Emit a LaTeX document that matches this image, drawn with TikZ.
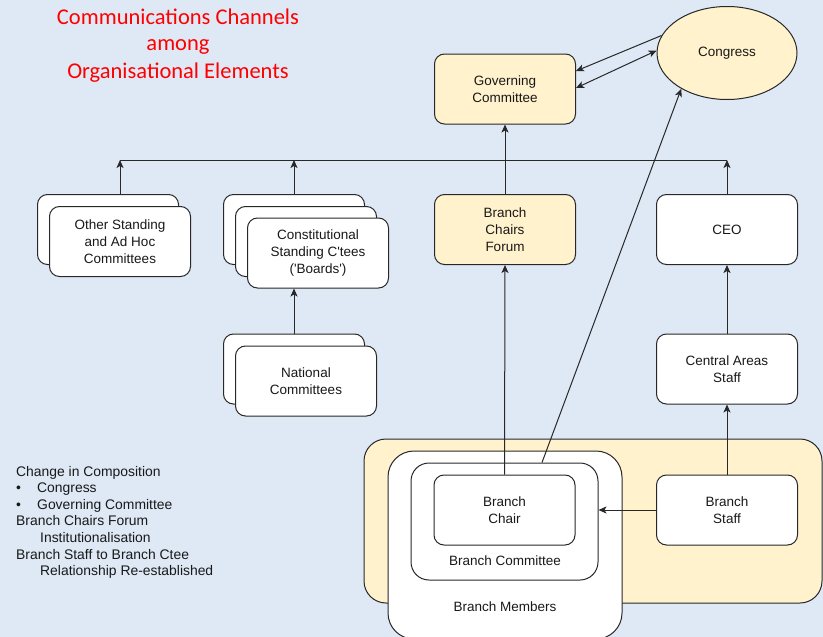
\documentclass[tikz,border=0pt]{standalone}
\usepackage{fontspec}
\setmainfont{Liberation Sans}[Ligatures=TeXOff]
\newfontfamily\titlefont{Carlito}
\usetikzlibrary{arrows.meta,calc,shapes.geometric}
\definecolor{bgblue}{RGB}{222,233,245}
\definecolor{paleyellow}{RGB}{255,242,204}
\definecolor{edgegray}{RGB}{40,40,40}
\definecolor{titlered}{RGB}{255,0,0}
\begin{document}
\begin{tikzpicture}[x=1pt,y=-1pt,
  box/.style={draw=edgegray, line width=1pt, fill=white, rounded corners=10pt,
    minimum width=141pt, minimum height=70pt, align=center, inner sep=0pt,
    text=black!90, font=\fontsize{13.5}{17}\selectfont},
  ybox/.style={box, fill=paleyellow},
  conn/.style={draw=edgegray, line width=1pt},
  arr/.style={conn, -{Stealth[length=8pt,width=7pt,inset=2pt]}},
  darr/.style={conn, {Stealth[length=8pt,width=7pt,inset=2pt]}-{Stealth[length=8pt,width=7pt,inset=2pt]}},
  lbl/.style={inner sep=0pt, text=black!90, font=\fontsize{13.5}{17}\selectfont},
  leg/.style={inner sep=0pt, anchor=base west, text=black!90, font=\fontsize{13.9}{16.6}\selectfont},
  ttl/.style={inner sep=0pt, anchor=base, text=titlered, font=\titlefont\fontsize{22.5}{27}\selectfont}
]
\fill[bgblue] (0,0) rectangle (823,637);
\useasboundingbox (0,0) rectangle (823,637);

% title
\node[ttl] (t1) at (178,24) {Communications Channels};
\node[ttl] (t2) at (178,50) {among};
\node[ttl] (t3) at (178,78) {Organisational Elements};

% top row
\node[ybox] (gc) at (505,89) {Governing\\Committee};
\node[draw=edgegray, line width=1pt, fill=paleyellow, ellipse, minimum width=140pt, minimum height=93pt,
  inner sep=0pt, text=black!90, font=\fontsize{13.5}{17}\selectfont] (cong) at (727,53) {Congress};

% second row
\node[box] (osb) at (108,229.5) {};
\node[box] (osf) at (120,241.5) {Other Standing\\and Ad Hoc\\Committees};
\node[box] (csb) at (294,229.5) {};
\node[box] (csm) at (306,241.5) {};
\node[box] (csf) at (318,253) {Constitutional\\Standing C'tees\\('Boards')};
\node[ybox] (bcf) at (505,229.5) {Branch\\Chairs\\Forum};
\node[box] (ceo) at (727,229.5) {CEO};

% third row
\node[box] (ncb) at (294,369) {};
\node[box] (ncf) at (306,381) {National\\Committees};
\node[box] (cas) at (727,369) {Central Areas\\Staff};

% branch area
\node[draw=edgegray, line width=1pt, fill=paleyellow, rounded corners=22pt,
  minimum width=458pt, minimum height=164pt, inner sep=0pt] (barea) at (593,521) {};
\node[draw=edgegray, line width=1pt, fill=white, rounded corners=26pt,
  minimum width=234pt, minimum height=188pt, inner sep=0pt] (bmem) at (505,545) {};
\node[draw=edgegray, line width=1pt, fill=white, rounded corners=18pt,
  minimum width=187pt, minimum height=117pt, inner sep=0pt] (bcm) at (504.5,521.5) {};
\node[box] (bch) at (504.5,510) {Branch\\Chair};
\node[box] (bst) at (727,510) {Branch\\Staff};
\node[lbl] (bcmlbl) at (505,561) {Branch Committee};
\node[lbl] (bmemlbl) at (505,607) {Branch Members};

% bus
\coordinate (busL) at (120,160);
\coordinate (busR) at (727,160);
\draw[conn] (busL) -- (busR);
\draw[arr] (osb.north -| busL) -- (busL);
\draw[arr] (csb.north) -- (csb.north |- busL);
\draw[arr] (ceo.north) -- (busR);

% connectors
\draw[arr] (bcf.north) -- (gc.south);
\draw[arr] (ncb.north) -- (ncb.north |- csf.south);
\draw[arr] (bch.north) -- (bcf.south);
\coordinate (bcmtop) at ($(bcm.north)+(37.5,0)$);
\draw[arr] (bcmtop) -- (cong.218);
\draw[arr] (cong.165) -- ($(gc.east)+(0,-18)$);
\draw[darr] ($(gc.east)+(0,-1)$) -- (cong.178);
\draw[arr] (bst.north) -- (cas.south);
\draw[arr] (cas.north) -- (ceo.south);
\draw[arr] (bst.west) -- (bst.west -| bcm.east);

% legend
\node[leg] (l1) at (16,476) {Change in Composition};
\node[leg] (l2b) at (16,492.6) {\textbullet};
\node[leg] (l2) at (37,492.6) {Congress};
\node[leg] (l3b) at (16,509.2) {\textbullet};
\node[leg] (l3) at (37,509.2) {Governing Committee};
\node[leg] (l4) at (16,525.8) {Branch Chairs Forum};
\node[leg] (l5) at (40,542.4) {Institutionalisation};
\node[leg] (l6) at (16,559) {Branch Staff to Branch Ctee};
\node[leg] (l7) at (40,575.6) {Relationship Re-established};
\end{tikzpicture}
\end{document}
